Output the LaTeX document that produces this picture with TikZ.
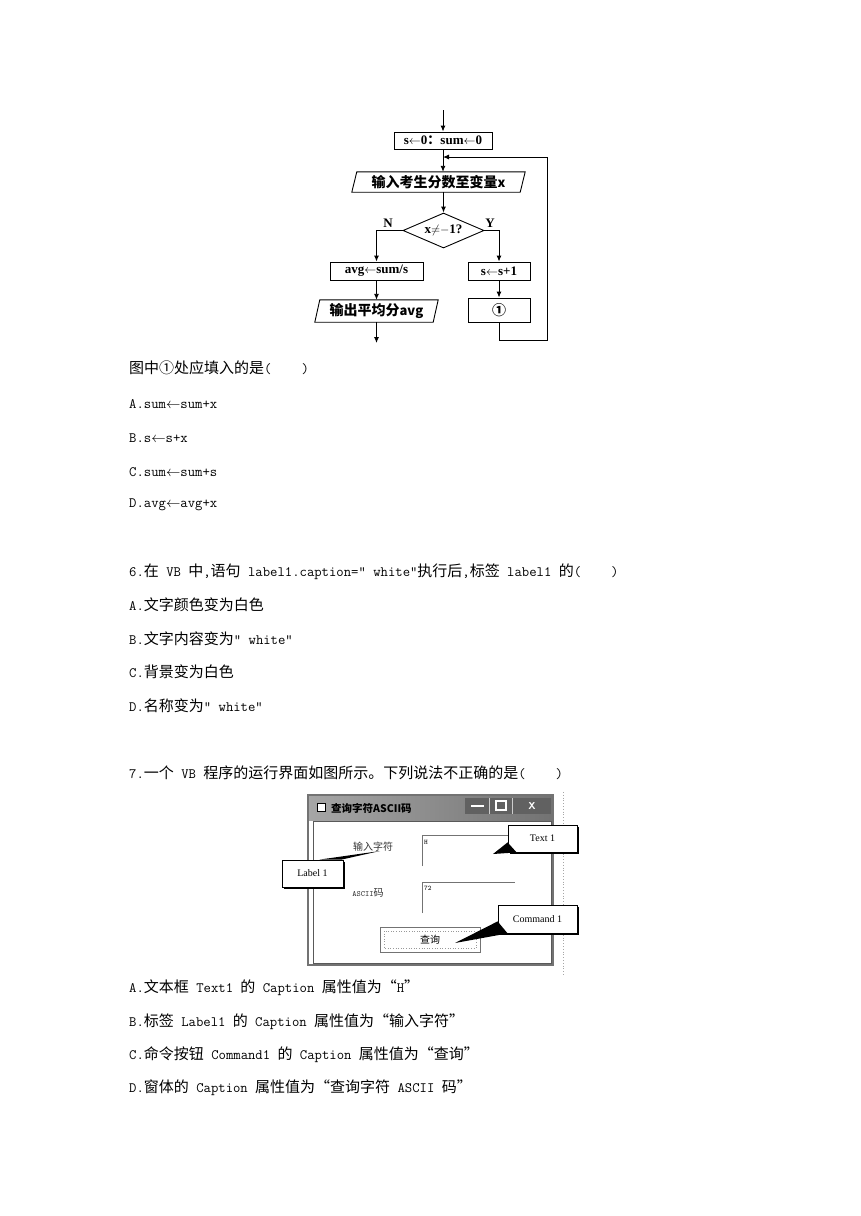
\documentclass[tikz,border=0pt]{standalone}
\usepackage{fontspec}
\setmainfont{Liberation Serif}
\newfontfamily\cjk{Noto Sans CJK SC}
\usetikzlibrary{shapes.geometric,arrows.meta,calc}
\newcommand\mylat[1]{{\ttfamily\fontsize{14.3}{17}\selectfont #1}}
\newcommand\bodyf{\cjk\fontsize{15}{18}\selectfont}
\newcommand\fcf{\bfseries\fontsize{13}{15}\selectfont}
\newcommand\fccjk{\cjk\bfseries\fontsize{14}{16}\selectfont}
\newcommand\vbcjk{\cjk\fontsize{10}{12}\selectfont}
\begin{document}
\begin{tikzpicture}[x=1pt,y=-1pt,
  fbox/.style={draw, line width=0.9pt, inner sep=0pt, font=\fcf},
  ptext/.style={inner sep=0pt, font=\fccjk},
  flow/.style={line width=0.9pt, -{Latex[length=6pt,width=5pt]}},
  fline/.style={line width=0.9pt},
  body/.style={anchor=west, inner sep=0pt, font=\bodyf},
  callbox/.style={draw, line width=0.8pt, fill=white, inner sep=0pt, font=\fontsize{10}{12}\selectfont},
  shadowline/.style={line width=1.6pt},
  vbline/.style={black!55, line width=0.8pt},
]
\fill[white] (0,0) rectangle (860,1216);
\useasboundingbox (0,0) rectangle (860,1216);

% ---------------- flowchart ----------------
\node[fbox, minimum width=98, minimum height=17] (b0) at (443,140.5) {s$\leftarrow$0{\cjk：}sum$\leftarrow$0};
\node[ptext, minimum width=173, minimum height=20] (in) at (438.5,182) {输入考生分数至变量{\fcf x}};
\draw[fline] ($(in.north west)+(5,0)$) -- (in.north east) -- ($(in.south east)+(-5,0)$) -- (in.south west) -- cycle;
\node[diamond, draw, line width=0.9pt, aspect=2.3, minimum width=81, minimum height=35, inner sep=0pt, font=\fcf] (d) at (443.5,230.5) {x$\mathord{\neq}\mathord{-}$1?};
\node[fbox, minimum width=93, minimum height=18] (avg) at (376.5,271) {avg$\leftarrow$sum/s};
\node[ptext, minimum width=123, minimum height=22] (out) at (376.5,311) {输出平均分{\fcf avg}};
\draw[fline] ($(out.north west)+(5,0)$) -- (out.north east) -- ($(out.south east)+(-5,0)$) -- (out.south west) -- cycle;
\node[fbox, minimum width=62, minimum height=18] (s1) at (499,271) {s$\leftarrow$s+1};
\node[fbox, minimum width=62, minimum height=24, font=\fccjk] (c1) at (499,310) {①};
\node[inner sep=0pt, font=\fcf] (N) at (388,223) {N};
\node[inner sep=0pt, font=\fcf] (Y) at (490,223) {Y};

\coordinate (top) at (443,110);
\coordinate (end) at (376.5,343);
\coordinate (nl) at (376.5,230.5);
\coordinate (yr) at (499,230.5);
\coordinate (lb) at (499,340);
\coordinate (rb) at (547,340);
\coordinate (rt) at (547,157);
\coordinate (j) at (443,157);

\draw[flow] (top) -- (b0.north);
\draw[flow] (b0.south) -- (b0.south |- in.north);
\draw[flow] (in.south -| d.north) -- (d.north);
\draw[flow] (d.west) -- (nl) -- (avg.north);
\draw[flow] (d.east) -- (yr) -- (s1.north);
\draw[flow] (avg.south) -- (out.north);
\draw[flow] (out.south) -- (end);
\draw[flow] (s1.south) -- (c1.north);
\draw[flow] (c1.south) -- (lb) -- (rb) -- (rt) -- (j);

% ---------------- question texts ----------------
\node[body] (q5) at (129,368) {图中①处应填入的是\mylat{(}\hspace{30pt}\mylat{)}};
\node[body] (q5a) at (129,404) {\mylat{A.sum}$\leftarrow$\mylat{sum+x}};
\node[body] (q5b) at (129,438) {\mylat{B.s}$\leftarrow$\mylat{s+x}};
\node[body] (q5c) at (129,472) {\mylat{C.sum}$\leftarrow$\mylat{sum+s}};
\node[body] (q5d) at (129,505) {\mylat{D.avg}$\leftarrow$\mylat{avg+x}};

\node[body] (q6) at (129,572) {\mylat{6.}在\mylat{\ VB\ }中\mylat{,}语句\mylat{\ label1.caption="\ white"}执行后\mylat{,}标签\mylat{\ label1\ }的\mylat{(}\hspace{30pt}\mylat{)}};
\node[body] (q6a) at (129,605) {\mylat{A.}文字颜色变为白色};
\node[body] (q6b) at (129,639) {\mylat{B.}文字内容变为\mylat{"\ white"}};
\node[body] (q6c) at (129,672) {\mylat{C.}背景变为白色};
\node[body] (q6d) at (129,706) {\mylat{D.}名称变为\mylat{"\ white"}};

\node[body] (q7) at (129,773) {\mylat{7.}一个\mylat{\ VB\ }程序的运行界面如图所示。下列说法不正确的是\mylat{(}\hspace{30pt}\mylat{)}};
\node[body] (q7a) at (129,988) {\mylat{A.}文本框\mylat{\ Text1\ }的\mylat{\ Caption\ }属性值为“\mylat{H}”};
\node[body] (q7b) at (129,1022) {\mylat{B.}标签\mylat{\ Label1\ }的\mylat{\ Caption\ }属性值为“输入字符”};
\node[body] (q7c) at (129,1055) {\mylat{C.}命令按钮\mylat{\ Command1\ }的\mylat{\ Caption\ }属性值为“查询”};
\node[body] (q7d) at (129,1088) {\mylat{D.}窗体的\mylat{\ Caption\ }属性值为“查询字符\mylat{\ ASCII\ }码”};

% ---------------- VB window ----------------
\draw[black!35, dotted, line width=0.8pt] (563,792) -- (563,975);
\draw[black!55, line width=1.2pt] (308,795) rectangle (553,965);
\shade[left color=black!35, right color=black!55] (309,796) rectangle (552,820);
\fill[black!62] (465,798) rectangle (551,814);
\draw[white!80!black, line width=0.6pt] (489,798) -- (489,814) (512,798) -- (512,814);
\draw[white, line width=1.6pt] (471,806) -- (484,806);
\draw[white, line width=1.2pt] (496,801) rectangle (506,810);
\node[inner sep=0pt, text=white, font=\bfseries\sffamily\fontsize{10}{12}\selectfont] (xbtn) at (532,806) {X};
\draw[black, fill=white, line width=0.8pt] (317,803) rectangle (325,811);
\node[anchor=west, inner sep=0pt, font=\cjk\bfseries\fontsize{10.5}{12}\selectfont] (ttl) at (331,808) {查询字符ASCII码};
\draw[black!65, line width=0.9pt] (313,821) -- (313,963) -- (551,963) -- (551,821) -- cycle;

\node[inner sep=0pt, text=black!80, font=\vbcjk] (lab1) at (373,847) {输入字符};
\node[inner sep=0pt, text=black!80, font=\vbcjk] (lab2) at (368,893) {{\ttfamily\fontsize{8}{10}\selectfont ASCII}码};
\draw[vbline] (422,866) -- (422,835) -- (508,835);
\node[anchor=west, inner sep=0pt, font=\ttfamily\fontsize{7}{8}\selectfont] (hval) at (424,842) {H};
\draw[vbline] (422,913) -- (422,882) -- (515,882);
\node[anchor=west, inner sep=0pt, font=\ttfamily\fontsize{7}{8}\selectfont] (nval) at (424,888) {72};
\draw[black!55, line width=1pt] (380,927) rectangle (480,952);
\draw[black!40, dotted, line width=0.6pt] (384,931) rectangle (476,948);
\node[inner sep=0pt, font=\vbcjk] (btn) at (430,940) {查询};

% callouts
\node[callbox, minimum width=69, minimum height=27] (t1) at (542.5,838.5) {Text 1};
\draw[shadowline] ($(t1.north east)+(1,2)$) -- ($(t1.south east)+(1,1)$) -- ($(t1.south west)+(2,1)$);
\coordinate (t1tip) at (493,854);
\fill ($(t1.south west)+(0,-10)$) -- (t1tip) -- ($(t1.south west)+(9,0)$) -- cycle;

\node[callbox, minimum width=61, minimum height=27] (l1) at (312.5,873.5) {Label 1};
\draw[shadowline] ($(l1.north east)+(1,2)$) -- ($(l1.south east)+(1,1)$) -- ($(l1.south west)+(2,1)$);
\coordinate (l1tip) at (380,851);
\fill ($(l1.north east)+(-24,0)$) -- (l1tip) -- ($(l1.north east)+(-2,0)$) -- cycle;

\node[callbox, minimum width=79, minimum height=28] (cm) at (537.5,919) {Command 1};
\draw[shadowline] ($(cm.north east)+(1,2)$) -- ($(cm.south east)+(1,1)$) -- ($(cm.south west)+(2,1)$);
\coordinate (cmtip) at (455,943);
\fill ($(cm.south west)+(0,-12)$) -- (cmtip) -- ($(cm.south west)+(10,0)$) -- cycle;
\end{tikzpicture}
\end{document}
